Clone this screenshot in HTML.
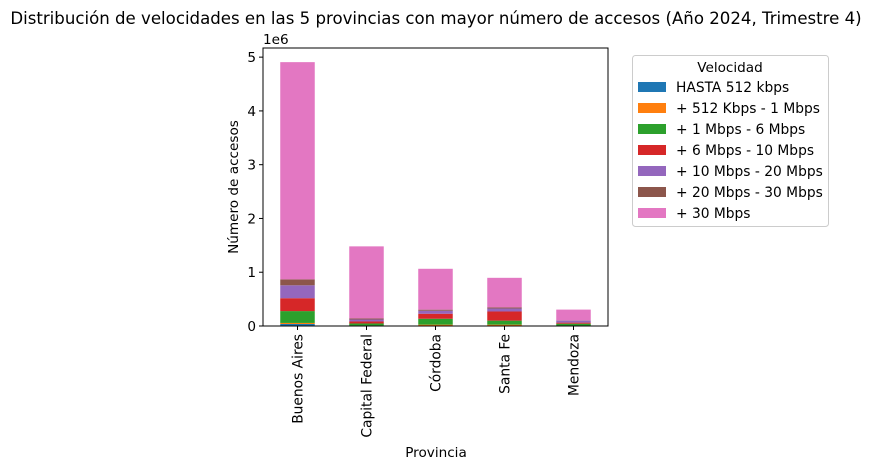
<!DOCTYPE html>
<html><head><meta charset="utf-8"><style>
body{margin:0;background:#fff;font-family:"Liberation Sans","DejaVu Sans",sans-serif;}
svg text{font-family:"DejaVu Sans","Liberation Sans",sans-serif;}
</style></head><body>
<svg id="c" width="872" height="470" xmlns="http://www.w3.org/2000/svg"></svg>
<script>
const categories=["Buenos Aires","Capital Federal","Córdoba","Santa Fe","Mendoza"];
const seriesNames=["HASTA 512 kbps","+ 512 Kbps - 1 Mbps","+ 1 Mbps - 6 Mbps","+ 6 Mbps - 10 Mbps","+ 10 Mbps - 20 Mbps","+ 20 Mbps - 30 Mbps","+ 30 Mbps"];
const colors=["#1f77b4","#ff7f0e","#2ca02c","#d62728","#9467bd","#8c564b","#e377c2"];
const s0=[37000,5000,5000,5000,3000];
const s1=[20000,5000,20000,20000,3000];
const s2=[220000,37000,110000,75000,37000];
const s3=[240000,37000,93000,170000,20000];
const s4=[240000,37000,56000,56000,37000];
const s5=[110000,20000,20000,20000,5000];
const s6=[4040000,1340000,760000,550000,200000];
const series=[s0,s1,s2,s3,s4,s5,s6];
const yTicks=[0,1,2,3,4,5];
const NS="http://www.w3.org/2000/svg";
const svg=document.getElementById('c');
const L=263,R=608,T=48,B=326;
const y=v=>B-v/5.17e6*(B-T);
const x=i=>L+(i+0.5)*(R-L)/categories.length;
function mk(t,a,txt){const e=document.createElementNS(NS,t);for(const k in a)e.setAttribute(k,a[k]);if(txt!==undefined)e.textContent=txt;svg.appendChild(e);return e;}
let e=mk('text',{x:436,y:24,'text-anchor':'middle','font-size':16.6,fill:'#000'},'Distribución de velocidades en las 5 provincias con mayor número de accesos (Año 2024, Trimestre 4)');


const bw=(R-L)/categories.length*0.5;
categories.forEach((c,i)=>{let acc=0;series.forEach((s,j)=>{const y0=y(acc),y1=y(acc+s[i]);acc+=s[i];
 const r=mk('rect',{x:x(i)-bw/2,y:y1,width:bw,height:y0-y1,fill:colors[j]});
 
 });});
e=mk('rect',{x:L,y:T,width:R-L,height:B-T,fill:'none',stroke:'#000','stroke-width':1});


yTicks.forEach(t=>{const yy=y(t*1e6);mk('line',{x1:L-4,x2:L,y1:yy,y2:yy,stroke:'#000'});
 const tx=mk('text',{x:L-7,y:yy+5,'text-anchor':'end','font-size':13.6},String(t));
 
 });
e=mk('text',{x:L,y:44,'font-size':13.6},'1e6');


categories.forEach((c,i)=>{const xx=x(i);mk('line',{x1:xx,x2:xx,y1:B,y2:B+4,stroke:'#000'});
 const tx=mk('text',{x:xx+5,y:B+8,'text-anchor':'end','font-size':13.8,transform:`rotate(-90 ${xx+5} ${B+8})`},c);
 
 });
e=mk('text',{x:436,y:457,'text-anchor':'middle','font-size':13.6},'Provincia');


e=mk('text',{x:238,y:187,'text-anchor':'middle','font-size':13.6,transform:'rotate(-90 238 187)'},'Número de accesos');


e=mk('rect',{x:632.5,y:55.5,width:196,height:171,rx:3,fill:'#fff',stroke:'#ccc'});


e=mk('text',{x:730,y:72,'text-anchor':'middle','font-size':13.6},'Velocidad');


seriesNames.forEach((n,j)=>{const yy=87+j*21;
 const r=mk('rect',{x:638,y:yy-5,width:28,height:10,fill:colors[j]});
 
 
 const t=mk('text',{x:676,y:yy+5,'font-size':13.8},n);
 
 });
</script>
</body></html>
